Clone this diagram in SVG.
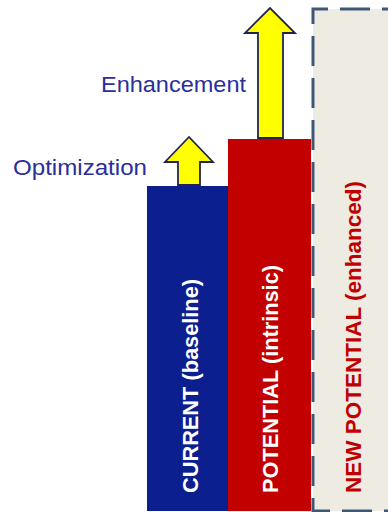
<svg xmlns="http://www.w3.org/2000/svg" width="388" height="512" viewBox="0 0 388 512">
  <style>
    .lbl { font-family: "Liberation Sans", Arial, sans-serif; font-size: 22px; fill: #2B2E9C; }
    .bar { font-family: "Liberation Sans", Arial, sans-serif; font-size: 22px; font-weight: bold; text-anchor: middle; }
    .arrow { fill: #FFFF00; stroke: #1F2550; stroke-width: 1.8; stroke-linejoin: miter; }
  </style>
  <rect width="388" height="512" fill="#FFFFFF"/>
  <g id="new-potential">
    <rect x="313" y="9" width="90" height="502" fill="#EEEBE3"/>
    <path d="M395,9 H313 V511 H395" fill="none" stroke="#3E5878" stroke-width="3" stroke-dasharray="30 12" stroke-dashoffset="17"/>
    <text class="bar" fill="#C00000" transform="translate(361,337) rotate(-90)" textLength="312" lengthAdjust="spacingAndGlyphs">NEW POTENTIAL (enhanced)</text>
  </g>
  <g id="current">
    <rect x="147" y="186" width="81" height="325" fill="#0C1F8F"/>
    <text class="bar" fill="#FFFFFF" transform="translate(198,386) rotate(-90)" textLength="214" lengthAdjust="spacingAndGlyphs">CURRENT (baseline)</text>
  </g>
  <g id="potential">
    <rect x="228" y="139" width="83" height="372" fill="#C30000"/>
    <text class="bar" fill="#FFFFFF" transform="translate(278,379) rotate(-90)" textLength="228" lengthAdjust="spacingAndGlyphs">POTENTIAL (intrinsic)</text>
  </g>
  <g id="connectors">
    <polygon class="arrow" points="178,185 178,162 165,162 189,137 213,162 200,162 200,185"/>
    <polygon class="arrow" points="258,138 258,33 245,33 270,8 295,33 283,33 283,138"/>
  </g>
  <g id="optimization">
    <text class="lbl" x="13" y="175" textLength="134" lengthAdjust="spacingAndGlyphs">Optimization</text>
  </g>
  <g id="enhancement">
    <text class="lbl" x="101" y="92" textLength="145" lengthAdjust="spacingAndGlyphs">Enhancement</text>
  </g>
</svg>
